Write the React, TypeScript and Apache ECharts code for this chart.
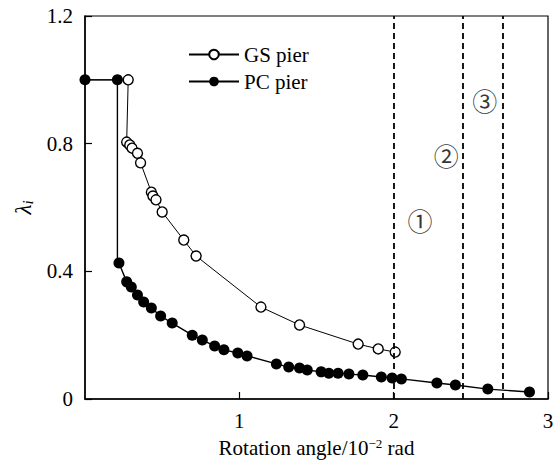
import React, { useEffect, useRef } from "react";
import * as echarts from "echarts";

const gsX = [0, 0.28, 0.27, 0.29, 0.305, 0.34, 0.36, 0.43, 0.44, 0.46, 0.5, 0.64, 0.72, 1.14, 1.39, 1.77, 1.9, 2.01];
const gsY = [1.0, 1.0, 0.805, 0.796, 0.786, 0.77, 0.74, 0.648, 0.636, 0.624, 0.586, 0.498, 0.448, 0.288, 0.232, 0.172, 0.157, 0.147];

const pcX = [0, 0.21, 0.21, 0.22, 0.27, 0.3, 0.34, 0.38, 0.43, 0.49, 0.565, 0.695, 0.76, 0.84, 0.9, 0.99, 1.05, 1.24, 1.32, 1.39, 1.44, 1.53, 1.58, 1.64, 1.71, 1.8, 1.92, 1.99, 2.05, 2.28, 2.4, 2.61, 2.88];
const pcY = [1.0, 1.0, 0.44, 0.426, 0.367, 0.351, 0.326, 0.304, 0.285, 0.26, 0.238, 0.2, 0.185, 0.166, 0.154, 0.144, 0.135, 0.11, 0.1, 0.097, 0.091, 0.085, 0.081, 0.081, 0.078, 0.075, 0.069, 0.066, 0.063, 0.05, 0.044, 0.031, 0.022];

const stageLines = [2.0, 2.45, 2.71];
const stageLabels = ["①", "②", "③"];
const stageLabelX = [2.17, 2.34, 2.59];
const stageLabelY = [0.56, 0.765, 0.937];

const xTicks = [0, 1, 2, 3];
const yTicks = [0, 0.4, 0.8, 1.2];

const SERIF = "'Liberation Serif', 'Times New Roman', serif";

export default function App() {
  const ref = useRef<HTMLDivElement>(null);
  useEffect(() => {
    if (!ref.current) return;
    const chart = echarts.init(ref.current, undefined, { renderer: "svg" });
    const gsData = gsX.map((x, i) =>
      i === 0 ? { value: [x, gsY[i]], symbol: "none" } : { value: [x, gsY[i]] }
    );
    const pcData = pcX.map((x, i) =>
      i === 2 ? { value: [x, pcY[i]], symbol: "none" } : { value: [x, pcY[i]] }
    );
    chart.setOption({
      animation: false,
      backgroundColor: "#fff",
      grid: {
        left: 85,
        right: 5,
        top: 16,
        bottom: 65,
        show: true,
        borderColor: "#000",
        borderWidth: 1.2,
        containLabel: false,
        outerBoundsMode: "none",
      },
      legend: {
        left: 183,
        top: 39,
        orient: "vertical",
        itemWidth: 50,
        itemHeight: 12,
        itemGap: 6,
        textStyle: { fontFamily: SERIF, fontSize: 21, color: "#000", padding: [0, 0, 0, 0] },
        data: ["GS pier", "PC pier"],
      },
      xAxis: {
        type: "value",
        min: xTicks[0],
        max: xTicks[xTicks.length - 1],
        interval: 1,
        axisLine: { show: true, lineStyle: { color: "#000", width: 1.5 } },
        axisTick: { show: true, inside: true, length: 7, lineStyle: { color: "#000", width: 1.2 } },
        splitLine: { show: false },
        axisLabel: {
          showMinLabel: false,
          fontFamily: SERIF,
          fontSize: 21,
          color: "#000",
          margin: 11,
        },
        name: "Rotation angle/10{sup|−2} rad",
        nameLocation: "middle",
        nameGap: 38,
        nameTextStyle: {
          fontFamily: SERIF,
          fontSize: 21,
          color: "#000",
          rich: {
            sup: { fontFamily: SERIF, fontSize: 13, color: "#000", verticalAlign: "top", padding: [0, 0, 8, 0] },
          },
        },
      },
      yAxis: {
        type: "value",
        min: yTicks[0],
        max: yTicks[yTicks.length - 1],
        interval: 0.4,
        axisLine: { show: true, lineStyle: { color: "#000", width: 1.5 } },
        axisTick: { show: true, inside: true, length: 7, lineStyle: { color: "#000", width: 1.2 } },
        splitLine: { show: false },
        axisLabel: {
          fontFamily: SERIF,
          fontSize: 21,
          color: "#000",
          margin: 12,
          formatter: (v: number) => (v === 0 ? "0" : v.toFixed(1)),
        },
        name: "{l|λ}{s|i}",
        nameLocation: "middle",
        nameGap: 40,
        nameRotate: 90,
        nameTextStyle: {
          rich: {
            l: { fontFamily: SERIF, fontStyle: "italic", fontSize: 23, color: "#000" },
            s: { fontFamily: SERIF, fontStyle: "italic", fontSize: 15, color: "#000", padding: [9, 0, 0, 0] },
          },
        },
      },
      series: [
        {
          name: "GS pier",
          type: "line",
          data: gsData,
          symbol: "circle",
          symbolSize: 10,
          itemStyle: { color: "#fff", borderColor: "#000", borderWidth: 1.4 },
          lineStyle: { color: "#000", width: 1 },
          z: 3,
          markLine: {
            silent: true,
            symbol: "none",
            label: { show: false },
            lineStyle: { color: "#000", type: [6, 4], width: 1.8 },
            data: stageLines.map((x) => ({ xAxis: x })),
          },
        },
        {
          name: "PC pier",
          type: "line",
          data: pcData,
          symbol: "circle",
          symbolSize: 11,
          itemStyle: { color: "#000", borderColor: "#000", borderWidth: 0 },
          lineStyle: { color: "#000", width: 1.4 },
          z: 4,
        },
        {
          name: "stages",
          type: "scatter",
          data: stageLabelX.map((x, i) => ({ value: [x, stageLabelY[i]], name: stageLabels[i] })),
          symbolSize: 0,
          silent: true,
          label: {
            show: true,
            position: "inside",
            formatter: (p: any) => p.name,
            fontFamily: "'Noto Sans CJK JP', 'DejaVu Sans', sans-serif",
            fontSize: 25,
            color: "#000",
          },
          z: 5,
        },
      ],
    });
    return () => chart.dispose();
  }, []);
  return (
    <div
      ref={ref}
      style={{ position: "fixed", left: 0, top: 0, width: 553, height: 464, background: "#fff" }}
    />
  );
}
